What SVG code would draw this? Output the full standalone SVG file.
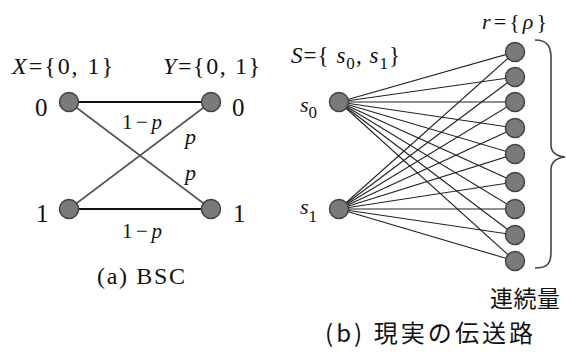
<svg xmlns="http://www.w3.org/2000/svg" width="566" height="354" viewBox="0 0 566 354">
<style>
.nd{fill:#7a7a7a;stroke:#444;stroke-width:1.5}
.h{stroke:#111;stroke-width:2;fill:none}
.d{stroke:#555;stroke-width:1.6;fill:none}
.c{stroke:#222;stroke-width:1.1;fill:none}
</style>
<rect width="566" height="354" fill="#fff"/>
<g id="connectors">
<line class="h" x1="69" y1="102" x2="211" y2="102"/>
<line class="h" x1="69" y1="209" x2="211" y2="209"/>
<line class="d" x1="69" y1="102" x2="211" y2="209"/>
<line class="d" x1="69" y1="209" x2="211" y2="102"/>
<g id="s0-links">
<line class="c" x1="339" y1="102" x2="515" y2="52"/>
<line class="c" x1="339" y1="102" x2="515" y2="77"/>
<line class="c" x1="339" y1="102" x2="515" y2="102"/>
<line class="c" x1="339" y1="102" x2="515" y2="128"/>
<line class="c" x1="339" y1="102" x2="515" y2="154"/>
<line class="c" x1="339" y1="102" x2="515" y2="182"/>
<line class="c" x1="339" y1="102" x2="515" y2="209"/>
<line class="c" x1="339" y1="102" x2="515" y2="235"/>
<line class="c" x1="339" y1="102" x2="515" y2="261"/>
</g>
<g id="s1-links">
<line class="c" x1="339" y1="209" x2="515" y2="52"/>
<line class="c" x1="339" y1="209" x2="515" y2="77"/>
<line class="c" x1="339" y1="209" x2="515" y2="102"/>
<line class="c" x1="339" y1="209" x2="515" y2="128"/>
<line class="c" x1="339" y1="209" x2="515" y2="154"/>
<line class="c" x1="339" y1="209" x2="515" y2="182"/>
<line class="c" x1="339" y1="209" x2="515" y2="209"/>
<line class="c" x1="339" y1="209" x2="515" y2="235"/>
<line class="c" x1="339" y1="209" x2="515" y2="261"/>
</g>
</g>
<g id="bsc-x0"><circle class="nd" cx="69" cy="102" r="9.5"/></g>
<g id="bsc-x1"><circle class="nd" cx="69" cy="209" r="9.5"/></g>
<g id="bsc-y0"><circle class="nd" cx="211" cy="102" r="9.5"/></g>
<g id="bsc-y1"><circle class="nd" cx="211" cy="209" r="9.5"/></g>
<g id="s0"><circle class="nd" cx="339" cy="102" r="9.5"/></g>
<g id="s1"><circle class="nd" cx="339" cy="209" r="9.5"/></g>
<g id="r1"><circle class="nd" cx="515" cy="52" r="9.5"/></g>
<g id="r2"><circle class="nd" cx="515" cy="77" r="9.5"/></g>
<g id="r3"><circle class="nd" cx="515" cy="102" r="9.5"/></g>
<g id="r4"><circle class="nd" cx="515" cy="128" r="9.5"/></g>
<g id="r5"><circle class="nd" cx="515" cy="154" r="9.5"/></g>
<g id="r6"><circle class="nd" cx="515" cy="182" r="9.5"/></g>
<g id="r7"><circle class="nd" cx="515" cy="209" r="9.5"/></g>
<g id="r8"><circle class="nd" cx="515" cy="235" r="9.5"/></g>
<g id="r9"><circle class="nd" cx="515" cy="261" r="9.5"/></g>
<g id="brace">
<path d="M535,40 C547,40 551,46 551,58 L551,145 C551,152 556,156 565,157 C556,158 551,162 551,170 L551,252 C551,264 547,268 535,268" stroke="#444" stroke-width="1.6" fill="none"/>
</g>
<g id="labels" font-family="Times New Roman, Liberation Serif, DejaVu Serif, serif" fill="#111">
<text x="12" y="74" font-size="24" textLength="101" lengthAdjust="spacing"><tspan font-style="italic">X</tspan>={0, 1}</text>
<text x="163" y="74" font-size="24" textLength="97" lengthAdjust="spacing"><tspan font-style="italic">Y</tspan>={0, 1}</text>
<text x="35" y="116" font-size="25">0</text>
<text x="232" y="116" font-size="25">0</text>
<text x="36" y="222" font-size="25">1</text>
<text x="233" y="222" font-size="25">1</text>
<text x="122" y="129" font-size="21" textLength="40" lengthAdjust="spacing">1−<tspan font-style="italic">p</tspan></text>
<text x="185" y="144" font-size="22" font-style="italic">p</text>
<text x="185" y="180" font-size="22" font-style="italic">p</text>
<text x="122" y="238" font-size="21" textLength="40" lengthAdjust="spacing">1−<tspan font-style="italic">p</tspan></text>
<text x="97" y="284" font-size="24" textLength="88" lengthAdjust="spacing">(a) BSC</text>
<text x="291" y="63" font-size="23" textLength="109" lengthAdjust="spacing"><tspan font-style="italic">S</tspan>={ <tspan font-style="italic">s</tspan><tspan font-size="17" dy="6">0</tspan><tspan dy="-6">, </tspan><tspan font-style="italic">s</tspan><tspan font-size="17" dy="6">1</tspan><tspan dy="-6">}</tspan></text>
<text x="300" y="112" font-size="22"><tspan font-style="italic">s</tspan><tspan font-size="17" dy="6">0</tspan></text>
<text x="300" y="214" font-size="22"><tspan font-style="italic">s</tspan><tspan font-size="17" dy="8">1</tspan></text>
<text x="482" y="29" font-size="22" textLength="65" lengthAdjust="spacing"><tspan font-style="italic">r</tspan>={<tspan font-style="italic">ρ</tspan>}</text>
</g>
<g id="jlabels" font-family="Noto Sans CJK JP, Noto Sans CJK SC, sans-serif" fill="#111">
<text x="490" y="307" font-size="23" textLength="70" lengthAdjust="spacing">連続量</text>
<text x="325" y="342" font-size="24" textLength="208" lengthAdjust="spacing">(b) 現実の伝送路</text>
</g>
</svg>
